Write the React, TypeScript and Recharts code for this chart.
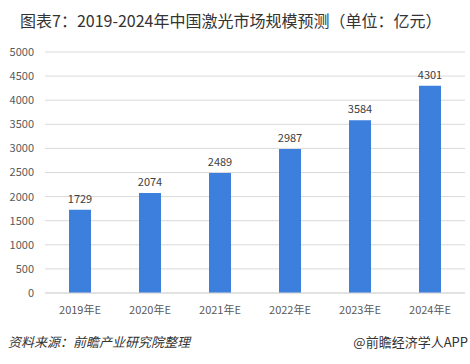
import React from "react";
import { BarChart, Bar, XAxis, YAxis, CartesianGrid, LabelList } from "recharts";

const categories = ["2019年E", "2020年E", "2021年E", "2022年E", "2023年E", "2024年E"];
const values = [1729, 2074, 2489, 2987, 3584, 4301];
const yTicks = [0, 500, 1000, 1500, 2000, 2500, 3000, 3500, 4000, 4500, 5000];

const data = categories.map((c, i) => ({ name: c, value: values[i] }));

const FONT = "'Noto Sans CJK SC', 'Noto Sans', sans-serif";

export default function App() {
  return (
    <div style={{ position: "absolute", left: 0, top: 0, width: 470, height: 364, background: "#fff", fontFamily: FONT }}>
      <div style={{ position: "absolute", left: 20, top: 8, fontSize: 16, lineHeight: "24px", color: "#333", whiteSpace: "nowrap" }}>
        图表7：2019-2024年中国激光市场规模预测（单位：亿元）
      </div>
      <div style={{ position: "absolute", left: 0, top: 0 }}>
        <BarChart width={470} height={330} data={data} margin={{ top: 52, right: 5, bottom: 7, left: 0 }} barCategoryGap={0}>
          <CartesianGrid vertical={false} stroke="#d9d9d9" />
          <XAxis
            dataKey="name"
            height={30}
            axisLine={{ stroke: "#d9d9d9" }}
            tickLine={false}
            tickSize={0}
            tickMargin={13}
            tick={{ fontSize: 11, fill: "#595959", fontFamily: FONT }}
            interval={0}
          />
          <YAxis
            width={45}
            domain={[0, 5000]}
            ticks={yTicks}
            axisLine={false}
            tickLine={false}
            tickSize={0}
            tickMargin={11}
            tick={{ fontSize: 11, fill: "#595959", fontFamily: FONT }}
            interval={0}
          />
          <Bar dataKey="value" fill="#3d7fdc" barSize={22} isAnimationActive={false}>
            <LabelList dataKey="value" position="top" offset={7} style={{ fontSize: 11, fill: "#404040", fontFamily: FONT }} />
          </Bar>
        </BarChart>
      </div>
      <div style={{ position: "absolute", left: 8, top: 333, fontSize: 13, lineHeight: "18px", color: "#333", fontStyle: "italic", whiteSpace: "nowrap" }}>
        资料来源：前瞻产业研究院整理
      </div>
      <div style={{ position: "absolute", right: 2, top: 333, fontSize: 13, lineHeight: "18px", color: "#333", whiteSpace: "nowrap" }}>
        @前瞻经济学人APP
      </div>
    </div>
  );
}
